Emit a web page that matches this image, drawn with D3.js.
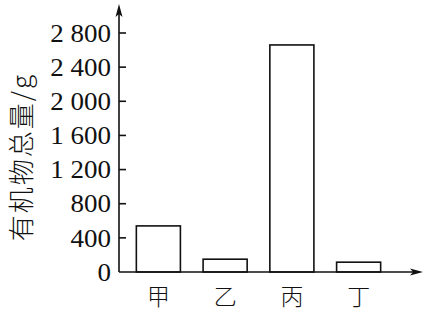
<!DOCTYPE html>
<html>
<head>
<meta charset="utf-8">
<script src="https://cdn.jsdelivr.net/npm/d3@7"></script>
<style>
  body { margin: 0; background: #fff; }
</style>
</head>
<body>
<div id="chart"></div>
<script>
// Data
const categories = ["甲", "乙", "丙", "丁"];
const values = [540, 150, 2660, 115];
const yTicks = [0, 400, 800, 1200, 1600, 2000, 2400, 2800];
const yTitle = "有机物总量/g";

const width = 425, height = 315;

const svg = d3.select("#chart")
    .append("svg")
    .attr("width", width)
    .attr("height", height);

// Scales
const xScale = d3.scaleBand()
    .domain(categories)
    .range([125, 392])
    .paddingInner(0.34)
    .paddingOuter(0.17);

const yScale = d3.scaleLinear()
    .domain([0, 2800])
    .range([272, 33]);

const x0 = 119;
const y0 = yScale(0);

// Bars
svg.selectAll("rect.bar")
    .data(values)
    .enter().append("rect")
    .attr("class", "bar")
    .attr("x", (d, i) => xScale(categories[i]))
    .attr("y", d => yScale(d))
    .attr("width", xScale.bandwidth())
    .attr("height", d => y0 - yScale(d))
    .attr("fill", "none")
    .attr("stroke", "#111")
    .attr("stroke-width", 1.6);

// Axes lines
svg.append("line")
    .attr("x1", x0).attr("y1", y0)
    .attr("x2", x0).attr("y2", 12)
    .attr("stroke", "#111").attr("stroke-width", 1.6);

svg.append("line")
    .attr("x1", x0).attr("y1", y0)
    .attr("x2", 414).attr("y2", y0)
    .attr("stroke", "#111").attr("stroke-width", 1.6);

// Arrow heads
svg.append("path")
    .attr("d", `M${x0},4 L${x0 - 3.5},17 L${x0},14 L${x0 + 3.5},17 Z`)
    .attr("fill", "#111");

svg.append("path")
    .attr("d", `M423,${y0} L410,${y0 - 3.5} L413,${y0} L410,${y0 + 3.5} Z`)
    .attr("fill", "#111");

// Y ticks (on the right of the axis)
svg.selectAll("line.tick")
    .data(yTicks.filter(d => d > 0))
    .enter().append("line")
    .attr("class", "tick")
    .attr("x1", x0).attr("x2", x0 + 7)
    .attr("y1", d => yScale(d)).attr("y2", d => yScale(d))
    .attr("stroke", "#111").attr("stroke-width", 1.6);

// Y tick labels, thousands separated by a space
const fmt = d => d >= 1000 ? Math.floor(d / 1000) + " " + d3.format("03d")(d % 1000) : String(d);

svg.selectAll("text.ylab")
    .data(yTicks)
    .enter().append("text")
    .attr("class", "ylab")
    .attr("transform", d => `translate(111,${yScale(d)}) scale(1.08,1)`)
    .attr("dy", "0.35em")
    .attr("text-anchor", "end")
    .style("font-family", "'Liberation Serif', 'DejaVu Serif', serif")
    .style("font-size", "25px")
    .style("fill", "#111")
    .text(fmt);

// Category labels
svg.selectAll("text.xlab")
    .data(categories)
    .enter().append("text")
    .attr("class", "xlab")
    .attr("x", d => xScale(d) + xScale.bandwidth() / 2)
    .attr("y", 297)
    .attr("dy", "0.35em")
    .attr("text-anchor", "middle")
    .style("font-family", "'Noto Sans CJK SC', sans-serif")
    .style("font-size", "23px")
    .style("font-weight", "300")
    .style("fill", "#111")
    .text(d => d);

// Y axis title, rotated
svg.append("text")
    .attr("transform", "translate(21,157) rotate(-90)")
    .attr("dy", "0.38em")
    .attr("text-anchor", "middle")
    .style("font-family", "'Noto Sans CJK SC', sans-serif")
    .style("font-size", "26px")
    .style("font-weight", "300")
    .style("letter-spacing", "2px")
    .style("fill", "#111")
    .text(yTitle);
</script>
</body>
</html>
